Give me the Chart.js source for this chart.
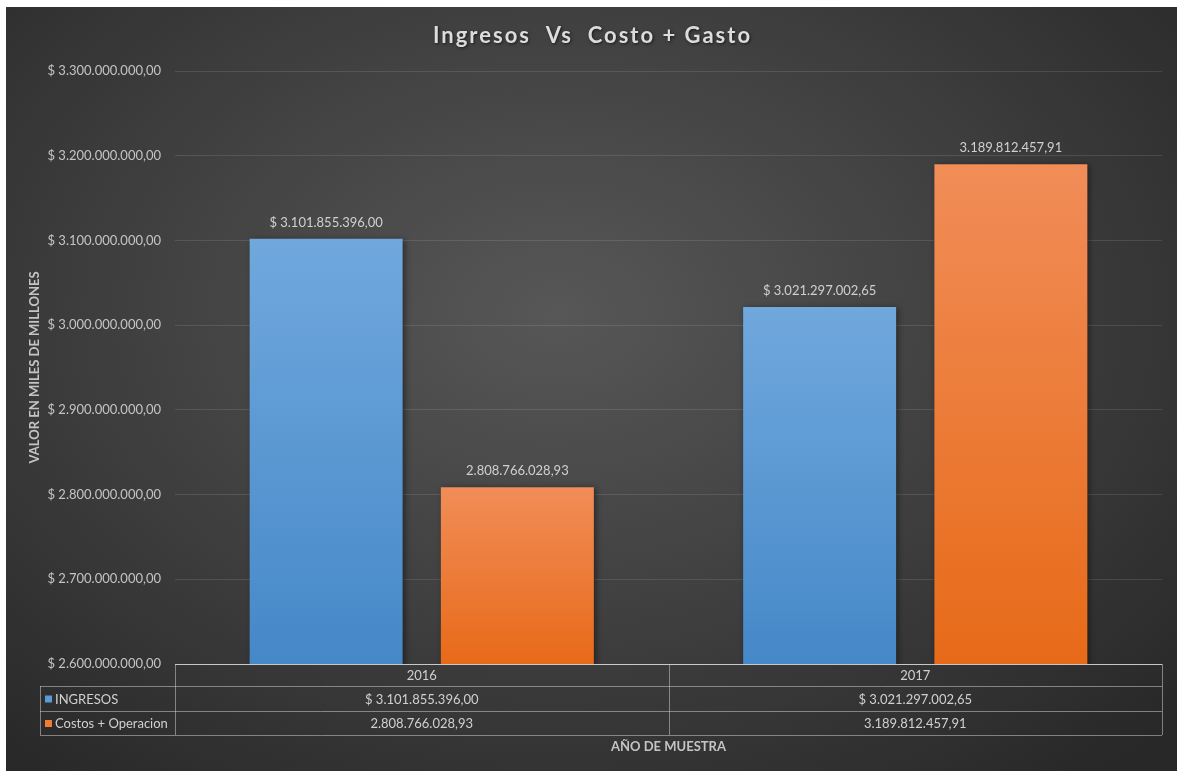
<!DOCTYPE html>
<html lang="es">
<head>
  <meta charset="UTF-8">
  <title>Ingresos Vs Costo + Gasto</title>
  <script src="https://cdn.jsdelivr.net/npm/chart.js"></script>
  <style>
    html, body {
      margin: 0;
      padding: 0;
      background: #fff;
      overflow: hidden;
    }
    .chart-wrap {
      position: absolute;
      left: 6px;
      top: 7px;
      width: 1171px;
      height: 764px;
      background: radial-gradient(ellipse 72% 78% at 47% 40%, #575757 0%, #404040 50%, #282828 100%);
    }
  </style>
</head>
<body>
  <div class="chart-wrap">
    <canvas id="ingresosChart" width="1171" height="764"></canvas>
  </div>

  <script>
    const years = ['2016', '2017'];
    const ingresos = [3101855396.00, 3021297002.65];
    const costos = [2808766028.93, 3189812457.91];
    const seriesNames = ['INGRESOS', 'Costos + Operacion'];

    const FONT = 'Lato, "Open Sans", sans-serif';
    const TEXT = '#d0d0d0';

    const fmt = v => v.toLocaleString('de-DE', { minimumFractionDigits: 2, maximumFractionDigits: 2 });
    const fmtIngresos = v => '$ ' + fmt(v);
    const fmtCostos = v => fmt(v);
    const formatters = [fmtIngresos, fmtCostos];

    function barGradient(top, bottom) {
      return function (context) {
        const chart = context.chart;
        const area = chart.chartArea;
        if (!area || context.parsed === undefined) return bottom;
        const y = chart.scales.y.getPixelForValue(context.parsed.y);
        const g = chart.ctx.createLinearGradient(0, y, 0, area.bottom);
        g.addColorStop(0, top);
        g.addColorStop(1, bottom);
        return g;
      };
    }

    // bar shadows + value labels over each bar
    const barLabels = {
      id: 'barLabels',
      beforeDatasetsDraw(chart) {
        const ctx = chart.ctx;
        ctx.save();
        ctx.shadowColor = 'rgba(0,0,0,0.45)';
        ctx.shadowBlur = 6;
        ctx.shadowOffsetX = 2;
        ctx.shadowOffsetY = 1;
      },
      afterDatasetsDraw(chart) {
        const ctx = chart.ctx;
        ctx.restore();
        ctx.save();
        ctx.font = '13px ' + FONT;
        ctx.fillStyle = TEXT;
        ctx.textAlign = 'center';
        ctx.textBaseline = 'alphabetic';
        chart.data.datasets.forEach((ds, i) => {
          chart.getDatasetMeta(i).data.forEach((bar, j) => {
            ctx.fillText(formatters[i](ds.data[j]), bar.x, bar.y - 12);
          });
        });
        ctx.restore();
      }
    };

    // title and data table under the plot
    const dataTable = {
      id: 'dataTable',
      afterDraw(chart) {
        const { ctx, chartArea: a, scales: { x } } = chart;
        const w = chart.width;

        ctx.save();
        ctx.font = 'bold 22px ' + FONT;
        ctx.letterSpacing = '2px';
        ctx.fillStyle = '#dcdcdc';
        ctx.textAlign = 'center';
        ctx.textBaseline = 'alphabetic';
        ctx.shadowColor = 'rgba(0,0,0,0.6)';
        ctx.shadowBlur = 3;
        ctx.shadowOffsetX = 1;
        ctx.shadowOffsetY = 1;
        ctx.fillText('Ingresos  Vs  Costo + Gasto', w / 2 + 1, 36);
        ctx.restore();

        const legendLeft = 34;
        const rows = [a.bottom, a.bottom + 22, a.bottom + 47, a.bottom + 71];
        const mid = (x.getPixelForValue(0) + x.getPixelForValue(1)) / 2;
        const cols = [a.left, mid, a.right];

        ctx.save();
        ctx.strokeStyle = 'rgba(200,200,200,0.55)';
        ctx.lineWidth = 1;
        ctx.beginPath();
        // horizontal rules
        ctx.moveTo(a.left, rows[0] + 0.5); ctx.lineTo(a.right, rows[0] + 0.5);
        for (let r = 1; r < rows.length; r++) {
          ctx.moveTo(legendLeft, rows[r] + 0.5); ctx.lineTo(a.right, rows[r] + 0.5);
        }
        // vertical rules
        cols.forEach(c => { ctx.moveTo(Math.round(c) + 0.5, rows[0]); ctx.lineTo(Math.round(c) + 0.5, rows[3]); });
        ctx.moveTo(legendLeft + 0.5, rows[1]); ctx.lineTo(legendLeft + 0.5, rows[3]);
        ctx.stroke();

        // axis line on top
        ctx.strokeStyle = 'rgba(215,215,215,0.8)';
        ctx.beginPath();
        ctx.moveTo(a.left, rows[0] + 0.5); ctx.lineTo(a.right, rows[0] + 0.5);
        ctx.stroke();

        ctx.font = '13px ' + FONT;
        ctx.fillStyle = TEXT;
        ctx.textBaseline = 'middle';
        ctx.textAlign = 'center';
        years.forEach((y, j) => {
          ctx.fillText(y, (cols[j] + cols[j + 1]) / 2, (rows[0] + rows[1]) / 2 + 1);
        });
        chart.data.datasets.forEach((ds, i) => {
          const cy = (rows[i + 1] + rows[i + 2]) / 2 + 1;
          ds.data.forEach((v, j) => {
            ctx.textAlign = 'center';
            ctx.fillStyle = TEXT;
            ctx.fillText(formatters[i](v), (cols[j] + cols[j + 1]) / 2, cy);
          });
          ctx.fillStyle = ds.legendColor;
          ctx.fillRect(legendLeft + 5, cy - 4, 7, 7);
          ctx.fillStyle = TEXT;
          ctx.textAlign = 'left';
          ctx.fillText(seriesNames[i], legendLeft + 15, cy);
        });

        ctx.font = 'bold 13px ' + FONT;
        ctx.fillStyle = '#c4c4c4';
        ctx.textAlign = 'center';
        ctx.fillText('AÑO DE MUESTRA', (a.left + a.right) / 2, rows[3] + 4 + 8);
        ctx.restore();
      }
    };

    const ctx = document.getElementById('ingresosChart').getContext('2d');
    new Chart(ctx, {
      type: 'bar',
      data: {
        labels: years,
        datasets: [
          {
            label: seriesNames[0],
            data: ingresos,
            backgroundColor: barGradient('#70a8dd', '#4588c8'),
            legendColor: '#5b9bd5',
            categoryPercentage: 0.775,
            barPercentage: 0.8
          },
          {
            label: seriesNames[1],
            data: costos,
            backgroundColor: barGradient('#f18d58', '#e76a18'),
            legendColor: '#ed7d31',
            categoryPercentage: 0.775,
            barPercentage: 0.8
          }
        ]
      },
      options: {
        responsive: false,
        animation: false,
        layout: { padding: { top: 64, right: 15, bottom: 107, left: 0 } },
        plugins: {
          legend: { display: false },
          tooltip: { enabled: false }
        },
        scales: {
          x: { display: false },
          y: {
            min: 2600000000,
            max: 3300000000,
            ticks: {
              stepSize: 100000000,
              padding: 14,
              color: '#c4c4c4',
              font: { family: FONT, size: 13 },
              callback: v => '$ ' + fmt(v)
            },
            grid: { color: 'rgba(255,255,255,0.11)', drawTicks: false },
            border: { display: false },
            title: {
              display: true,
              text: 'VALOR EN MILES DE MILLONES',
              color: '#c4c4c4',
              font: { family: FONT, size: 13, weight: 'bold' },
              padding: { top: 21, bottom: 0 }
            },
            afterFit(scale) { scale.width = 169; }
          }
        }
      },
      plugins: [barLabels, dataTable]
    });
  </script>
</body>
</html>
